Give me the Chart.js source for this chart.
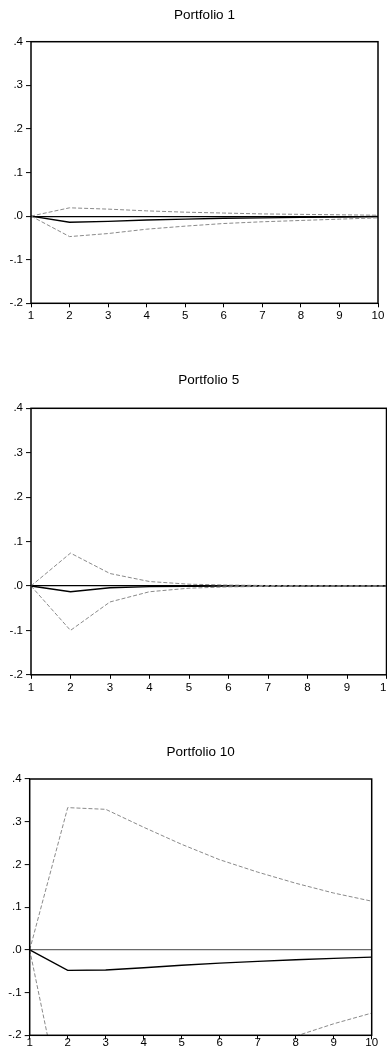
<!DOCTYPE html>
<html>
<head>
<meta charset="utf-8">
<script src="https://cdn.jsdelivr.net/npm/chart.js@4.4.1/dist/chart.umd.min.js"></script>
<style>
  html, body { margin: 0; padding: 0; background: #ffffff; }
  #page { position: relative; width: 387px; height: 1057px; overflow: hidden; background: #ffffff; }
  .panel { position: absolute; left: 0; }
</style>
</head>
<body>
<div id="page">
  <canvas id="p1" class="panel" width="387" height="325" style="top:0px"></canvas>
  <canvas id="p5" class="panel" width="400" height="355" style="top:340px"></canvas>
  <canvas id="p10" class="panel" width="387" height="327" style="top:730px"></canvas>
</div>
<script>
// Horizon (periods after the shock)
const periods = ['1', '2', '3', '4', '5', '6', '7', '8', '9', '10'];

// Value axis range and step
const yMin = -0.2;
const yMax = 0.4;
const yStep = 0.1;

// Portfolio 1: response with +/- 2 S.E. bands
const p1Response = [0, -0.014, -0.012, -0.009, -0.007, -0.005, -0.004, -0.003, -0.002, -0.001];
const p1Upper    = [0, 0.019, 0.016, 0.012, 0.009, 0.007, 0.005, 0.004, 0.003, 0.002];
const p1Lower    = [0, -0.047, -0.040, -0.030, -0.023, -0.017, -0.013, -0.010, -0.007, -0.004];

// Portfolio 5
const p5Response = [0, -0.013, -0.004, -0.0015, -0.0005, -0.0002, -0.0001, 0, 0, 0];
const p5Upper    = [0, 0.074, 0.028, 0.010, 0.004, 0.002, 0.001, 0.0005, 0.0003, 0.0002];
const p5Lower    = [0, -0.100, -0.036, -0.013, -0.005, -0.002, -0.001, -0.0005, -0.0003, -0.0002];

// Portfolio 10
const p10Response = [0, -0.048, -0.047, -0.042, -0.036, -0.031, -0.027, -0.023, -0.020, -0.017];
const p10Upper    = [0, 0.333, 0.329, 0.287, 0.247, 0.211, 0.182, 0.156, 0.133, 0.114];
const p10Lower    = [0, -0.429, -0.423, -0.371, -0.319, -0.273, -0.236, -0.202, -0.173, -0.148];

const FONT = "'Liberation Sans', Arial, Helvetica, sans-serif";

function fmtTick(v) {
  const n = Math.round(Math.abs(v) * 10);
  return (v < -1e-9 ? '-' : '') + '.' + n;
}

// Box around the plot area plus the panel heading above it
const framePlugin = {
  id: 'frameAndTitle',
  afterDatasetsDraw(chart, args, opts) {
    const a = chart.chartArea;
    const ctx = chart.ctx;
    ctx.save();
    ctx.strokeStyle = '#000000';
    ctx.lineWidth = 1.5;
    ctx.strokeRect(a.left, a.top, a.right - a.left, a.bottom - a.top);
    ctx.fillStyle = '#000000';
    ctx.font = '13.5px ' + FONT;
    ctx.textAlign = 'center';
    ctx.textBaseline = 'middle';
    ctx.fillText(opts.text, (a.left + a.right) / 2, a.top - opts.gap);
    ctx.restore();
  }
};

function makePanel(id, title, lower, response, upper, g) {
  const dashed = (data) => ({
    data: data,
    borderColor: '#8a8a8a',
    borderWidth: 1,
    borderDash: [4, 2],
    pointRadius: 0,
    tension: 0,
    fill: false
  });
  new Chart(document.getElementById(id), {
    type: 'line',
    data: {
      labels: periods,
      datasets: [
        dashed(upper),
        dashed(lower),
        {
          data: response,
          borderColor: '#000000',
          borderWidth: 1.4,
          pointRadius: 0,
          tension: 0,
          fill: false
        }
      ]
    },
    options: {
      responsive: false,
      animation: false,
      devicePixelRatio: 1,
      events: [],
      layout: { padding: { top: g.top, right: g.right, left: 0, bottom: 0 } },
      plugins: {
        legend: { display: false },
        tooltip: { enabled: false },
        title: { display: false },
        frameAndTitle: { text: title, gap: g.titleGap }
      },
      scales: {
        x: {
          type: 'category',
          offset: false,
          border: { display: false },
          grid: {
            drawOnChartArea: false,
            drawTicks: true,
            tickLength: 4,
            tickColor: '#000000',
            tickWidth: 1
          },
          ticks: {
            color: '#000000',
            font: { family: FONT, size: 11.5 },
            padding: g.xPad,
            maxRotation: 0,
            autoSkip: false
          },
          afterFit(scale) { scale.height = g.axisH; }
        },
        y: {
          min: yMin,
          max: yMax,
          border: { display: false },
          grid: {
            drawOnChartArea: true,
            color: (c) => (c.tick && Math.abs(c.tick.value) < 1e-9) ? g.zeroColor : 'rgba(0,0,0,0)',
            lineWidth: 1.2,
            drawTicks: true,
            tickLength: 5,
            tickColor: '#000000',
            tickWidth: 1
          },
          ticks: {
            stepSize: yStep,
            color: '#000000',
            font: { family: FONT, size: 11.5 },
            padding: 3,
            callback: (v) => fmtTick(v)
          },
          afterFit(scale) { scale.width = g.axisW; }
        }
      }
    },
    plugins: [framePlugin]
  });
}

makePanel('p1', 'Portfolio 1', p1Lower, p1Response, p1Upper,
  { top: 41.7, right: 9, axisW: 31, axisH: 21.7, titleGap: 26.2, xPad: 2, zeroColor: '#000000' });
makePanel('p5', 'Portfolio 5', p5Lower, p5Response, p5Upper,
  { top: 68.3, right: 13.5, axisW: 31, axisH: 20.2, titleGap: 28.3, xPad: 2, zeroColor: '#000000' });
makePanel('p10', 'Portfolio 10', p10Lower, p10Response, p10Upper,
  { top: 49, right: 15.3, axisW: 29.7, axisH: 21.7, titleGap: 27, xPad: -3, zeroColor: '#6a6a6a' });
</script>
</body>
</html>
